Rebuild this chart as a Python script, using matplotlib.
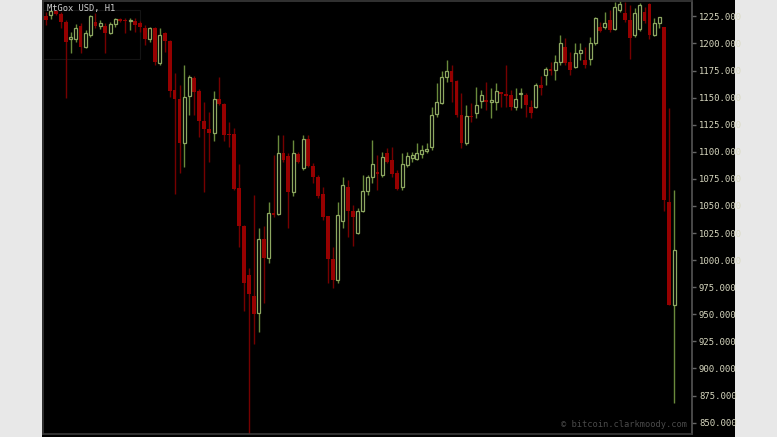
import matplotlib
matplotlib.use("Agg")
import matplotlib.pyplot as plt
from matplotlib.patches import Rectangle
import numpy as np

opens = [1225.0,1225.9,1229.6,1226.9,1219.5,1203.8,1203.8,1215.8,1196.4,1207.5,
         1219.5,1215.8,1215.8,1209.3,1217.6,1222.3,1221.3,1220.4,1220.4,1218.6,
         1213.9,1203.8,1213.9,1181.6,1209.3,1201.9,1156.7,1148.4,1107.7,1151.1,
         1167.8,1155.8,1128.0,1120.6,1117.0,1148.4,1143.7,1116.0,1116.0,1066.2,
         1031.1,986.7,967.3,951.6,1019.1,1002.4,1043.1,1042.2,1098.5,1095.7,
         1062.5,1097.6,1084.6,1111.4,1086.5,1076.3,1060.6,1040.3,1000.6,981.2,
         1035.7,1067.1,1044.9,1025.5,1045.8,1063.4,1076.3,1080.9,1078.2,1098.5,
         1092.0,1080.0,1067.1,1087.4,1093.9,1093.0,1097.6,1100.3,1104.0,1134.5,
         1144.7,1168.7,1174.2,1165.0,1133.6,1107.7,1132.7,1135.4,1146.5,1147.4,
         1145.6,1145.6,1154.8,1153.0,1152.1,1141.0,1153.0,1152.1,1141.0,1141.0,
         1161.3,1170.5,1176.1,1175.1,1182.5,1196.4,1182.5,1177.9,1190.8,1184.4,
         1185.3,1200.1,1214.9,1214.9,1221.3,1213.0,1230.6,1227.8,1221.3,1207.5,
         1213.0,1228.7,1236.1,1207.5,1218.6,1214.9,1053.2,959.0]
highs = [1228.7,1230.6,1230.6,1228.7,1221.3,1210.2,1217.6,1218.6,1212.1,1225.9,
         1227.8,1221.3,1218.6,1219.5,1223.2,1223.2,1223.2,1223.2,1223.2,1220.4,
         1216.7,1214.9,1214.9,1213.9,1210.2,1202.9,1172.4,1161.3,1179.8,1170.5,
         1169.6,1157.6,1145.6,1136.4,1155.8,1168.7,1144.7,1127.1,1121.6,1088.3,
         1032.0,992.3,1059.7,1029.2,1031.1,1053.2,1096.6,1115.1,1115.1,1098.5,
         1110.5,1099.4,1115.1,1115.1,1089.3,1078.2,1067.1,1040.3,1011.7,1053.2,
         1076.3,1073.6,1050.5,1047.7,1078.2,1078.2,1110.5,1096.6,1099.4,1103.1,
         1104.0,1082.8,1098.5,1099.4,1099.4,1107.7,1105.9,1107.7,1141.0,1163.1,
         1174.2,1184.4,1179.8,1165.9,1153.9,1142.8,1144.7,1159.4,1156.7,1164.1,
         1158.5,1163.1,1154.8,1179.8,1156.7,1158.5,1158.5,1153.9,1147.4,1163.1,
         1169.6,1177.9,1182.5,1189.0,1207.5,1204.7,1191.8,1200.1,1200.1,1196.4,
         1205.6,1224.1,1219.5,1228.7,1230.6,1238.0,1238.9,1238.0,1235.2,1232.4,
         1237.0,1233.3,1237.0,1223.2,1224.1,1214.9,1140.1,1064.3]
lows = [1216.7,1222.3,1225.9,1213.9,1149.3,1190.8,1201.0,1190.8,1195.5,1205.6,
        1213.9,1213.0,1190.8,1208.4,1214.9,1219.5,1209.3,1212.1,1210.2,1210.2,
        1198.2,1201.0,1179.8,1179.8,1191.8,1150.2,1061.5,1080.0,1085.6,1133.6,
        1133.6,1113.3,1062.5,1090.2,1109.6,1142.8,1109.6,1104.0,1064.3,1011.7,
        953.5,839.9,923.0,933.2,960.0,997.8,1039.4,1041.2,1090.2,1029.2,
        1058.8,1089.3,1082.8,1085.6,1070.8,1057.8,1036.6,979.3,974.7,979.3,
        1029.2,1020.9,1013.5,1023.7,1044.0,1059.7,1070.8,1064.3,1076.3,1089.3,
        1076.3,1064.3,1064.3,1085.6,1090.2,1092.0,1093.9,1098.5,1101.3,1131.7,
        1143.7,1164.1,1145.6,1131.7,1103.1,1105.9,1127.1,1130.8,1140.1,1138.2,
        1130.8,1138.2,1141.0,1141.0,1138.2,1138.2,1140.1,1131.7,1130.8,1140.1,
        1152.1,1161.3,1170.5,1165.9,1179.8,1179.8,1170.5,1177.0,1184.4,1177.0,
        1179.8,1198.2,1210.2,1213.0,1210.2,1212.1,1228.7,1219.5,1185.3,1205.6,
        1211.2,1218.6,1203.8,1206.6,1213.9,1045.8,959.0,868.5]
closes = [1221.3,1229.6,1226.9,1219.5,1201.0,1205.6,1213.9,1196.4,1209.3,1225.0,
          1215.8,1218.6,1209.3,1217.6,1222.3,1220.4,1220.4,1221.3,1216.7,1214.9,
          1203.8,1213.9,1182.5,1207.5,1201.9,1155.8,1148.4,1107.7,1150.2,1168.7,
          1154.8,1128.0,1120.6,1117.0,1148.4,1143.7,1115.1,1115.1,1065.2,1031.1,
          979.3,968.3,950.7,1019.1,1002.4,1043.1,1041.2,1098.5,1092.0,1062.5,
          1098.5,1090.2,1111.4,1086.5,1076.3,1058.8,1039.4,1000.6,981.2,1041.2,
          1068.9,1045.8,1039.4,1045.8,1063.4,1076.3,1088.3,1079.1,1094.8,1090.2,
          1079.1,1065.2,1088.3,1095.7,1096.6,1098.5,1101.3,1102.2,1133.6,1145.6,
          1168.7,1174.2,1164.1,1133.6,1107.7,1132.7,1131.7,1142.8,1152.1,1145.6,
          1147.4,1155.8,1153.0,1151.1,1141.0,1148.4,1153.9,1142.8,1135.4,1161.3,
          1158.5,1176.1,1174.2,1182.5,1200.1,1181.6,1175.1,1190.8,1193.6,1179.8,
          1200.1,1223.2,1211.2,1218.6,1212.1,1233.3,1236.1,1221.3,1204.7,1227.8,
          1235.2,1220.4,1207.5,1218.6,1224.1,1055.1,959.0,1009.8]

yticks = [850, 875, 900, 925, 950, 975, 1000, 1025, 1050, 1075, 1100, 1125, 1150, 1175, 1200, 1225]
title_text = "MtGox USD, H1"
credit_text = "\u00a9 bitcoin.clarkmoody.com"

W, H = 777, 437
fig = plt.figure(figsize=(W/100, H/100), dpi=100, facecolor='#e8e8e8')
bg = fig.add_axes([42/W, 0, (735-42)/W, 1], zorder=0)
bg.set_axis_off()
bg.add_patch(Rectangle((0, 0), 1, 1, transform=bg.transAxes, facecolor='black',
                       edgecolor='none'))
ax = fig.add_axes([43/W, 3/H, (692-43)/W, 433/H], zorder=2)
ax.set_facecolor('black')

o = np.array(opens); h = np.array(highs); l = np.array(lows); c = np.array(closes)
x = np.arange(len(o))
up = c >= o
red_face = '#960000'
red_wick = '#760000'
green_edge = '#8ea862'
green_wick = '#6a8a3c'

ax.vlines(x[~up], l[~up], h[~up], color=red_wick, linewidth=1.0, zorder=2)
ax.vlines(x[up], l[up], h[up], color=green_wick, linewidth=1.0, zorder=2)
bw = 0.76
body_lo = np.minimum(o, c)
body_h = np.maximum(np.abs(c - o), 1.0)
ax.bar(x[~up], body_h[~up], bottom=body_lo[~up], width=bw, color=red_face,
       edgecolor='none', zorder=3)
ax.bar(x[up], body_h[up], bottom=body_lo[up], width=bw-0.15, facecolor='black',
       edgecolor=green_edge, linewidth=0.9, zorder=3)

ax.set_xlim(-0.6, 130.6)
ax.set_ylim(839.5, 1239.2)
ax.set_xticks([])
ax.yaxis.tick_right()
ax.set_yticks(yticks)
ax.set_yticklabels([f"{v:.3f}" for v in yticks], family='DejaVu Sans Mono',
                   fontsize=6.4, color='#d8d8c0')
ax.tick_params(axis='y', colors='#666666', length=3, width=1, pad=2, labelcolor='#d8d8c0')
for s in ax.spines.values():
    s.set_color('#3a3a3a')
    s.set_linewidth(1.2)
ax.spines['right'].set_color('#555555')

ax.add_patch(Rectangle((-0.6, 1185.3), 19.6, 45.3, facecolor='none',
                       edgecolor='#141414', linewidth=0.8, zorder=1))
ax.text(0.006, 0.992, title_text, transform=ax.transAxes, ha='left', va='top',
        family='DejaVu Sans Mono', fontsize=6.3, color='#d0d0d0', zorder=5)
ax.text(0.993, 0.012, credit_text, transform=ax.transAxes, ha='right', va='bottom',
        family='DejaVu Sans Mono', fontsize=6.3, color='#4a4a4a', zorder=5)

fig.savefig("out.png", dpi=100, facecolor=fig.get_facecolor())
